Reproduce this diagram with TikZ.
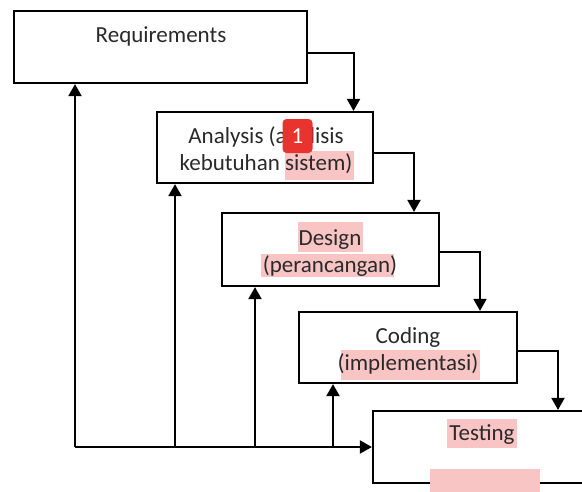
\documentclass[tikz,border=0pt]{standalone}
\usepackage{fontspec}
\setmainfont{Carlito}
\usetikzlibrary{arrows.meta,calc}
\definecolor{txt}{HTML}{2A2A2A}
\definecolor{hl}{HTML}{F9C4C4}
\definecolor{badge}{HTML}{E8332F}
\tikzset{
  x=1pt,y=-1pt,
  phase/.style={draw=black,line width=2.2pt,fill=white,inner sep=0pt},
  lbl/.style={text=txt,font=\fontsize{23}{27}\selectfont,align=center,inner sep=0pt},
  arr/.style={line width=2pt,-{Triangle[width=13pt,length=12pt]}},
  hlbox/.style={fill=hl,draw=none}
}
\begin{document}
\begin{tikzpicture}
\clip (0,0) rectangle (582,491);
\fill[white] (0,0) rectangle (582,491);
% boxes
\node[phase,minimum width=293pt,minimum height=72pt] (req) at (160.5,47) {};
\node[phase,minimum width=216pt,minimum height=71pt] (ana) at (265,147.5) {};
\node[phase,minimum width=217pt,minimum height=73pt] (des) at (330.5,249.5) {};
\node[phase,minimum width=218pt,minimum height=71pt] (cod) at (408,347.5) {};
\node[phase,minimum width=217pt,minimum height=72pt] (tst) at (481.5,447) {};
% highlights
\fill[hlbox] (285,151) rectangle (354,180);
\fill[hlbox] (298,222) rectangle (363,252);
\fill[hlbox] (261,254) rectangle (394,277);
\fill[hlbox] (341,350) rectangle (480,380);
\fill[hlbox] (447,419) rectangle (517,448);
\fill[hlbox] (430,469) rectangle (540,495);
% labels
\node[lbl] (reqt) at (161,36) {Requirements};
\node[lbl] (anat) at (266,150) {Analysis (analisis\\kebutuhan sistem)};
\node[lbl] (dest) at (330,253) {Design\\(perancangan)};
\node[lbl] (codt) at (408,351) {Coding\\(implementasi)};
\node[lbl] (tstt) at (482,435) {Testing};
% badge
\node[fill=badge,rounded corners=4pt,minimum width=30pt,minimum height=34pt,inner sep=0pt,text=white,font=\fontsize{23}{23}\selectfont] (bdg) at (297.5,136) {1};
% forward connectors
\draw[arr] ([yshift=-6pt]req.east) -| ([xshift=88.5pt]ana.north);
\draw[arr] ([yshift=-5.5pt]ana.east) -| ([xshift=83.5pt]des.north);
\draw[arr] ([yshift=-2.5pt]des.east) -| ([xshift=72pt]cod.north);
\draw[arr] ([yshift=-3.5pt]cod.east) -| ([xshift=76.5pt]tst.north);
% feedback
\coordinate (f1) at (75,447);
\coordinate (f2) at (175,447);
\coordinate (f3) at (255,447);
\coordinate (f4) at (333,447);
\draw[arr] (f1) -- (tst.west);
\draw[arr] (f1) -- (f1 |- req.south);
\draw[arr] (f2) -- (f2 |- ana.south);
\draw[arr] (f3) -- (f3 |- des.south);
\draw[arr] (f4) -- (f4 |- cod.south);
\end{tikzpicture}
\end{document}
